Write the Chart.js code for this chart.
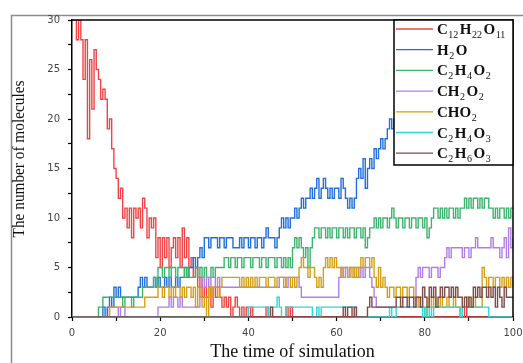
<!DOCTYPE html>
<html>
<head>
<meta charset="utf-8">
<script src="https://cdn.jsdelivr.net/npm/chart.js@4.4.0/dist/chart.umd.min.js"></script>
<style>
  html, body { margin: 0; padding: 0; background: #fff; }
  #chart { display: block; }
</style>
</head>
<body>
<canvas id="chart" width="523" height="363"></canvas>
<script>
// species shown in the legend, digits are drawn as subscripts
const names = ['C12H22O11', 'H2O', 'C2H4O2', 'CH2O2', 'CHO2', 'C2H4O3', 'C2H6O3'];
const colors = ['#f04444', '#1f6fdc', '#3cb46e', '#b07ee8', '#d4a012', '#2fd6d6', '#7d4b48'];

const timeStep = 0.5;
const xTicks = [0, 20, 40, 60, 80, 100];
const yTicks = [0, 5, 10, 15, 20, 25, 30];

// molecule counts, one value every 0.5 time units (0 .. 100)
const c12h22o11 = [
  30,30,28,30,28,24,28,18,26,21, 27,25,24,22,23,22,19,20,17,15,
  14,12,13,10,11,9,11,8,11,10,   11,9,12,11,8,10,9,10,6,8,
  5,8,6,8,5,7,8,6,8,5,           9,6,8,5,6,4,5,3,4,2,
  3,2,3,1,3,2,3,2,1,2,           1,2,0,1,2,1,0,1,0,1,
  0,1,0,0,0,0,0,0,1,0,           0,0,0,0,0,0,0,1,0,1,
  0,0,0,0,0,0,0,0,0,0,           0,0,0,0,0,0,0,0,0,0,
  0,0,0,0,0,0,0,0,0,0,           0,0,0,0,0,0,0,0,0,0,
  0,0,0,0,0,0,0,0,0,0,           0,0,0,0,0,0,0,0,0,0,
  0,0,0,0,0,0,0,0,0,0,           0,0,0,0,0,0,0,0,1,0,
  0,0,0,0,0,0,0,0,0,0,           0,0,0,0,0,0,0,0,0,0,
  0
];
const h2o = [
  0,0,0,0,0,0,0,0,0,0,           0,0,0,0,1,0,1,2,1,3,
  2,3,2,2,2,2,2,2,2,2,           3,4,3,4,3,3,3,4,3,4,
  3,3,4,3,4,3,3,4,3,4,           4,5,4,5,5,6,5,6,7,6,
  8,8,7,8,8,8,7,8,8,7,           8,8,8,7,7,7,8,7,8,8,
  7,8,8,7,8,8,7,8,9,8,           8,8,7,8,9,10,9,10,9,10,
  10,11,10,11,12,11,12,12,13,12, 13,14,12,13,14,13,12,13,12,13,
  13,12,14,13,12,11,12,11,12,14, 15,14,16,13,15,16,15,17,16,17,
  18,17,18,19,20,19,20,20,21,20, 21,20,21,22,21,22,21,20,21,22,
  21,22,23,22,21,22,23,22,21,22, 22,21,22,23,22,21,22,23,22,21,
  22,23,22,21,22,23,22,21,22,23, 22,21,22,23,22,23,22,21,22,23,
  22
];
const c2h4o2 = [
  0,0,0,0,0,0,0,0,0,0,           0,0,1,1,2,2,2,2,2,2,
  2,2,2,1,2,2,2,1,2,2,           2,2,3,3,3,3,3,4,3,5,
  5,4,5,5,4,5,5,4,5,5,           5,4,5,4,4,4,5,4,5,4,
  5,4,4,5,4,5,5,5,5,6,           6,5,6,6,5,6,6,5,6,6,
  6,5,6,6,6,5,6,6,5,6,           6,6,5,6,6,5,6,5,6,5,
  7,8,7,8,7,6,7,5,7,8,           9,9,8,9,9,8,9,8,9,9,
  8,9,9,8,9,8,9,9,8,9,           9,8,9,7,8,9,9,10,9,10,
  9,10,10,9,10,11,10,9,10,10,    9,10,10,9,10,10,9,10,10,9,
  10,8,9,10,11,11,10,11,10,11,   10,11,11,10,11,10,11,11,12,11,
  12,11,12,12,11,12,11,12,12,11, 11,10,11,10,11,11,10,11,10,11,
  11
];
const ch2o2 = [
  0,0,0,0,0,0,0,0,0,0,           0,0,0,0,0,0,0,1,1,1,
  1,0,1,1,0,0,0,0,0,0,           0,0,0,0,0,0,0,0,0,1,
  1,1,1,1,2,1,2,2,1,2,           1,1,1,1,1,1,1,1,3,4,
  3,4,3,4,4,3,4,3,3,3,           3,3,3,3,3,3,3,3,3,3,
  3,3,3,3,3,3,3,3,3,3,           3,3,3,3,4,4,4,3,4,4,
  4,4,4,3,2,2,2,2,2,2,           2,2,2,2,2,2,2,2,2,2,
  2,4,5,4,5,4,5,5,4,5,           4,5,4,5,5,4,3,2,1,1,
  1,1,1,1,1,1,1,1,1,1,           1,1,1,1,1,1,4,5,4,5,
  5,5,4,5,5,5,4,5,5,6,           7,6,7,7,7,7,7,6,7,7,
  6,7,7,8,7,7,7,7,7,7,           8,7,7,7,6,7,8,6,9,7,
  8
];
const cho2 = [
  0,0,0,0,0,0,0,0,0,0,           0,0,0,0,0,0,0,1,1,1,
  1,1,1,1,1,1,1,1,1,1,           1,1,1,2,2,2,2,2,2,3,
  3,2,3,3,2,3,2,3,3,2,           3,2,3,3,2,3,1,3,2,1,
  2,0,3,2,3,3,2,3,4,4,           4,4,4,4,4,4,3,4,3,4,
  3,4,3,4,3,4,4,4,3,4,           4,4,3,4,4,4,3,4,4,3,
  4,3,4,5,6,5,5,4,5,5,           4,3,4,3,5,6,5,6,5,6,
  5,5,4,5,5,4,5,4,5,4,           5,6,5,6,6,5,6,4,3,5,
  3,4,3,2,3,3,2,3,3,2,           3,3,2,3,3,2,2,1,2,1,
  0,1,2,1,2,1,1,2,1,1,           2,1,1,2,1,1,0,1,1,2,
  1,1,2,1,1,1,5,4,3,4,           4,3,4,4,3,4,3,4,3,4,
  3
];
const c2h4o3 = [
  0,0,0,0,0,0,0,0,0,0,           0,0,0,0,0,0,0,0,0,0,
  0,0,0,0,0,0,0,0,0,0,           0,0,0,0,0,0,0,0,0,0,
  0,0,0,0,0,0,0,0,0,0,           0,0,0,0,0,0,0,0,0,0,
  0,0,0,0,0,0,0,0,0,0,           0,0,0,0,0,0,0,0,0,0,
  1,1,1,1,1,1,1,1,1,0,           1,1,1,2,1,0,0,1,1,1,
  1,1,1,1,1,1,1,1,1,0,           0,1,0,1,1,1,1,1,1,1,
  1,1,1,1,1,1,1,1,1,0,           0,0,0,0,0,0,0,0,0,0,
  0,0,0,0,1,0,0,1,1,1,           1,1,1,1,1,1,1,1,1,0,
  1,0,1,0,1,1,1,1,1,1,           1,1,1,1,1,1,0,1,1,1,
  1,1,1,1,1,1,1,1,1,0,           0,0,0,0,0,0,0,0,0,0,
  0
];
const c2h6o3 = [
  0,0,0,0,0,0,0,0,0,0,           0,0,0,0,0,0,0,0,0,0,
  0,0,0,0,0,0,0,0,0,0,           0,0,0,0,0,0,0,0,0,0,
  0,0,0,0,0,0,0,0,0,0,           0,0,0,0,0,0,0,0,0,0,
  0,0,0,0,0,0,0,0,0,0,           0,0,0,0,0,0,0,0,0,0,
  0,0,0,0,0,0,0,0,0,0,           1,0,0,0,0,0,0,0,0,0,
  0,0,0,0,0,0,0,0,0,0,           0,0,0,0,0,0,0,0,0,0,
  0,0,0,1,0,1,1,0,1,0,           0,0,0,0,1,2,1,1,1,1,
  1,1,1,1,1,1,1,2,2,1,           2,2,1,2,2,1,2,2,1,3,
  2,1,3,2,3,1,2,3,2,3,           3,2,3,2,3,2,2,1,2,1,
  2,1,3,2,3,2,3,3,2,3,           2,3,1,3,2,1,3,2,2,2,
  2
];

const series = [c12h22o11, h2o, c2h4o2, ch2o2, cho2, c2h4o3, c2h6o3];
const times = c12h22o11.map((v, i) => i * timeStep);

function drawFormula(ctx, text, x, y) {
    const parts = text.split(/(\d+)/).filter(p => p.length);
    parts.forEach(p => {
        const sub = /^\d+$/.test(p);
        ctx.font = sub ? '10px "Liberation Serif"' : 'bold 15px "Liberation Serif"';
        ctx.fillText(p, x, sub ? y + 4 : y);
        x += ctx.measureText(p).width + (sub ? 1.5 : 0.5);
    });
}

const decor = {
    id: 'decor',
    beforeDraw(chart) {
        const ctx = chart.ctx;
        ctx.save();
        ctx.fillStyle = '#fff';
        ctx.fillRect(0, 0, chart.width, chart.height);
        ctx.strokeStyle = '#8c8c8c';
        ctx.lineWidth = 1.5;
        ctx.beginPath();
        ctx.moveTo(11.5, chart.height);
        ctx.lineTo(11.5, 15.5);
        ctx.lineTo(chart.width, 15.5);
        ctx.stroke();
        ctx.restore();
    },
    afterDraw(chart) {
        const { ctx, chartArea: a } = chart;
        ctx.save();
        ctx.strokeStyle = '#000';
        ctx.lineWidth = 1.5;
        ctx.beginPath();
        ctx.moveTo(a.left, a.top);
        ctx.lineTo(a.right, a.top);
        ctx.lineTo(a.right, a.bottom);
        ctx.stroke();

        // legend box
        const lx = a.right - 119, ly = a.top, lh = 145;
        ctx.fillStyle = '#fff';
        ctx.fillRect(lx, ly, a.right - lx, lh);
        ctx.strokeRect(lx, ly, a.right - lx, lh);
        names.forEach((name, i) => {
            const y = ly + 9 + i * 20.7;
            ctx.strokeStyle = colors[i];
            ctx.lineWidth = 1.3;
            ctx.beginPath();
            ctx.moveTo(lx + 2, y);
            ctx.lineTo(lx + 39, y);
            ctx.stroke();
            ctx.fillStyle = '#111';
            ctx.textBaseline = 'alphabetic';
            ctx.textAlign = 'left';
            drawFormula(ctx, name, lx + 43, y + 5);
        });

        // axis titles
        ctx.fillStyle = '#111';
        ctx.textAlign = 'center';
        ctx.textBaseline = 'middle';
        ctx.font = '18px "Liberation Serif"';
        ctx.fillText('The time of simulation', (a.left + a.right) / 2, 352);
        ctx.translate(19.5, 159);
        ctx.rotate(-Math.PI / 2);
        ctx.scale(0.9, 1);
        ctx.font = '17px "Liberation Serif"';
        ctx.fillText('The number of molecules', 0, 0);
        ctx.restore();
    }
};

const ctx = document.getElementById('chart').getContext('2d');
new Chart(ctx, {
    type: 'line',
    data: {
        datasets: series.map((vals, i) => ({
            label: names[i],
            data: vals.map((v, j) => ({ x: times[j], y: v })),
            borderColor: colors[i],
            borderWidth: 1.4,
            pointRadius: 0,
            stepped: true,
            fill: false,
            order: -i
        }))
    },
    options: {
        responsive: false,
        animation: false,
        layout: { padding: { left: 0, right: 10, top: 20, bottom: 0 } },
        plugins: { legend: { display: false }, tooltip: { enabled: false } },
        scales: {
            x: {
                type: 'linear',
                min: 0,
                max: 100,
                afterFit: s => { s.height = 46; s.paddingLeft = 0; s.paddingRight = 0; },
                border: { color: '#000', width: 1.5 },
                grid: { drawOnChartArea: false, tickLength: 4, tickColor: '#000', tickWidth: 1.2 },
                ticks: {
                    stepSize: 10,
                    autoSkip: false,
                    maxRotation: 0,
                    padding: 6,
                    color: '#444',
                    font: { family: 'DejaVu Sans', size: 10 },
                    callback: v => xTicks.includes(v) ? v : ''
                }
            },
            y: {
                min: 0,
                max: 30,
                afterFit: s => { s.width = 72; s.paddingTop = 0; s.paddingBottom = 0; },
                border: { color: '#000', width: 1.5 },
                grid: { drawOnChartArea: false, tickLength: 4, tickColor: '#000', tickWidth: 1.2 },
                ticks: {
                    stepSize: 2.5,
                    autoSkip: false,
                    padding: 8,
                    color: '#444',
                    font: { family: 'DejaVu Sans', size: 10 },
                    callback: v => yTicks.includes(v) ? v : ''
                }
            }
        }
    },
    plugins: [decor]
});
</script>
</body>
</html>
